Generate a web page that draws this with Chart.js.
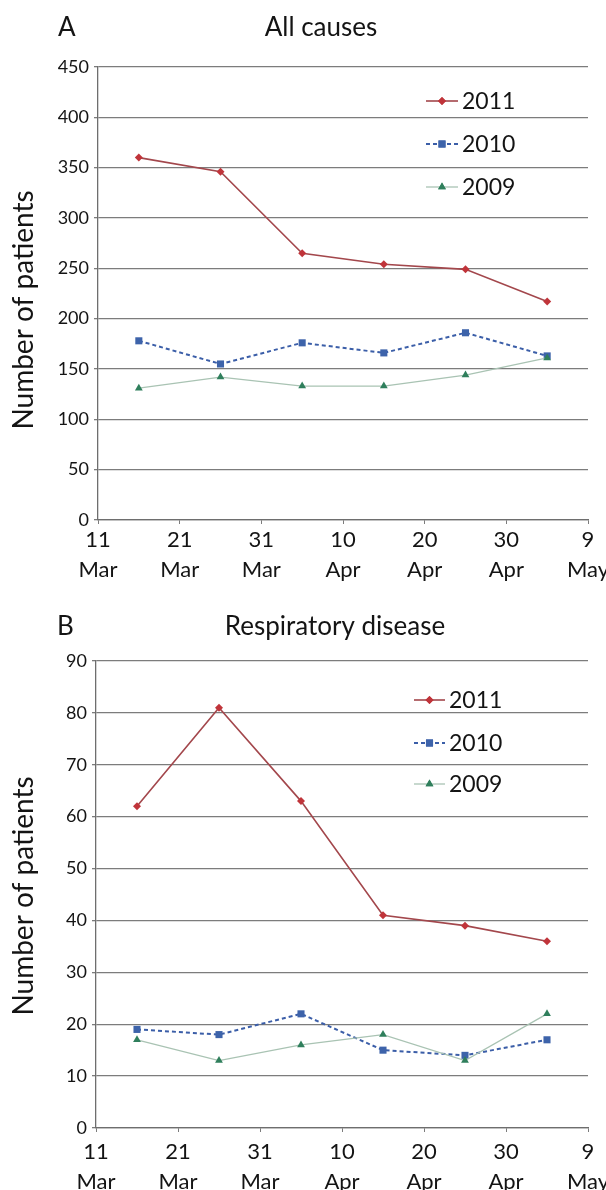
<!DOCTYPE html>
<html>
<head>
<meta charset="utf-8">
<script src="https://cdn.jsdelivr.net/npm/chart.js@4/dist/chart.umd.min.js"></script>
<style>
  html, body { margin: 0; padding: 0; background: #ffffff; }
  body { width: 606px; height: 1190px; position: relative; overflow: hidden; }
  .panel { position: absolute; left: 0; width: 606px; }
  #pa { top: 0; height: 590px; }
  #pb { top: 590px; height: 600px; }
</style>
</head>
<body>
<div class="panel" id="pa"><canvas id="chartA"></canvas></div>
<div class="panel" id="pb"><canvas id="chartB"></canvas></div>
<script>
// ---- Data ----
const X_DAYS = [5, 15, 25, 35, 45, 55];           // days after 11 Mar (mid-points of 10-day periods)
const X_TICK_LABELS = [['11', 'Mar'], ['21', 'Mar'], ['31', 'Mar'], ['10', 'Apr'], ['20', 'Apr'], ['30', 'Apr'], ['9', 'May']];
const SERIES_NAMES = ['2011', '2010', '2009'];

const ALL_2011 = [360, 346, 265, 254, 249, 217];
const ALL_2010 = [178, 155, 176, 166, 186, 163];
const ALL_2009 = [131, 142, 133, 133, 144, 161];

const RESP_2011 = [62, 81, 63, 41, 39, 36];
const RESP_2010 = [19, 18, 22, 15, 14, 17];
const RESP_2009 = [17, 13, 16, 18, 13, 22];

const Y_TITLE = 'Number of patients';

// ---- Styles ----
const FONT = 'Lato, "Open Sans", "Liberation Sans", sans-serif';
const TEXT = '#141414';
const GRID = '#7c7c7c';
const STYLES = [
  { line: '#a3474c', point: '#c0343a', shape: 'rectRot', r: 4, width: 1.6, dash: [] },
  { line: '#3b5ea8', point: '#3d63aa', shape: 'rect', r: 5, width: 2, dash: [4, 3] },
  { line: '#a9c3b3', point: '#2f7f5c', shape: 'triangle', r: 4.5, width: 1.3, dash: [] }
];

function toPoints(vals) { return vals.map((v, i) => ({ x: X_DAYS[i], y: v })); }

const decorPlugin = {
  id: 'decor',
  afterDraw(chart, args, opts) {
    const ctx = chart.ctx;
    ctx.save();
    ctx.fillStyle = TEXT;
    ctx.textBaseline = 'middle';
    ctx.font = '26px ' + FONT;
    ctx.textAlign = 'left';
    ctx.fillText(opts.letter, opts.letterX, opts.titleY);
    ctx.font = '26px ' + FONT;
    ctx.textAlign = 'center';
    ctx.fillText(opts.title, opts.titleX, opts.titleY);
    // rotated y-axis title
    ctx.save();
    ctx.translate(opts.yTitleX, opts.yTitleY);
    ctx.rotate(-Math.PI / 2);
    ctx.font = '28px ' + FONT;
    ctx.textAlign = 'center';
    ctx.textBaseline = 'middle';
    ctx.fillText(Y_TITLE, 0, 0);
    ctx.restore();
    // legend inside plot
    chart.data.datasets.forEach((ds, i) => {
      const st = STYLES[i];
      const y = opts.legendY[i];
      ctx.save();
      ctx.strokeStyle = st.line;
      ctx.lineWidth = st.width;
      ctx.setLineDash(st.dash);
      ctx.beginPath();
      ctx.moveTo(opts.legendX0, y);
      ctx.lineTo(opts.legendX1, y);
      ctx.stroke();
      ctx.setLineDash([]);
      ctx.fillStyle = st.point;
      Chart.helpers.drawPoint(ctx, { pointStyle: st.shape, radius: st.r, borderWidth: 0 }, (opts.legendX0 + opts.legendX1) / 2, y);
      ctx.fill();
      ctx.restore();
      ctx.fillStyle = TEXT;
      ctx.font = '23px ' + FONT;
      ctx.textAlign = 'left';
      ctx.textBaseline = 'middle';
      ctx.fillText(ds.label, opts.legendX1 + 4, y + 1);
    });
    ctx.restore();
  }
};

function makeChart(id, cfg) {
  const datasets = cfg.series.map((vals, i) => ({
    label: SERIES_NAMES[i],
    data: toPoints(vals),
    borderColor: STYLES[i].line,
    borderWidth: STYLES[i].width,
    borderDash: STYLES[i].dash,
    backgroundColor: STYLES[i].point,
    pointBackgroundColor: STYLES[i].point,
    pointBorderColor: STYLES[i].point,
    pointBorderWidth: 0,
    pointStyle: STYLES[i].shape,
    pointRadius: STYLES[i].r,
    tension: 0,
    order: 3 - i
  }));
  return new Chart(document.getElementById(id), {
    type: 'line',
    data: { datasets },
    plugins: [decorPlugin],
    options: {
      responsive: true,
      maintainAspectRatio: false,
      animation: false,
      events: [],
      layout: { padding: { top: cfg.top, right: 18, bottom: 0, left: 0 } },
      plugins: {
        legend: { display: false },
        tooltip: { enabled: false },
        title: { display: false },
        decor: cfg.decor
      },
      scales: {
        x: {
          type: 'linear',
          min: 0, max: 60,
          afterFit(s) { s.height = cfg.xHeight; s.paddingRight = 0; s.paddingLeft = 0; },
          afterBuildTicks(s) { s.ticks = X_TICK_LABELS.map((_, i) => ({ value: i * 10 })); },
          ticks: {
            autoSkip: false, maxRotation: 0,
            padding: cfg.xPad,
            color: TEXT,
            font: { family: FONT, size: 22, lineHeight: 1.36 },
            callback: (v) => X_TICK_LABELS[Math.round(v / 10)]
          },
          grid: { display: true, drawOnChartArea: false, drawTicks: true, tickLength: 4, color: GRID },
          border: { display: true, color: '#6e6e6e', width: 1.3 }
        },
        y: {
          min: 0, max: cfg.yMax,
          afterFit(s) { s.width = cfg.yWidth; },
          ticks: {
            stepSize: cfg.yStep,
            padding: 5,
            color: TEXT,
            font: { family: FONT, size: 18 }
          },
          grid: { color: GRID, lineWidth: 1.3, tickLength: 4 },
          border: { display: true, color: '#6e6e6e', width: 1.3 }
        }
      }
    }
  });
}

makeChart('chartA', {
  series: [ALL_2011, ALL_2010, ALL_2009],
  yMax: 450, yStep: 50,
  top: 67, xHeight: 70, yWidth: 98, xPad: 1,
  decor: { letter: 'A', letterX: 58, title: 'All causes', titleX: 321, titleY: 28,
           yTitleX: 24, yTitleY: 310,
           legendX0: 426, legendX1: 458, legendY: [101, 144, 187] }
});

makeChart('chartB', {
  series: [RESP_2011, RESP_2010, RESP_2009],
  yMax: 90, yStep: 10,
  top: 71, xHeight: 62, yWidth: 96, xPad: 5,
  decor: { letter: 'B', letterX: 57, title: 'Respiratory disease', titleX: 335, titleY: 37,
           yTitleX: 24, yTitleY: 306,
           legendX0: 414, legendX1: 445, legendY: [110, 153, 194] }
});
</script>
</body>
</html>
